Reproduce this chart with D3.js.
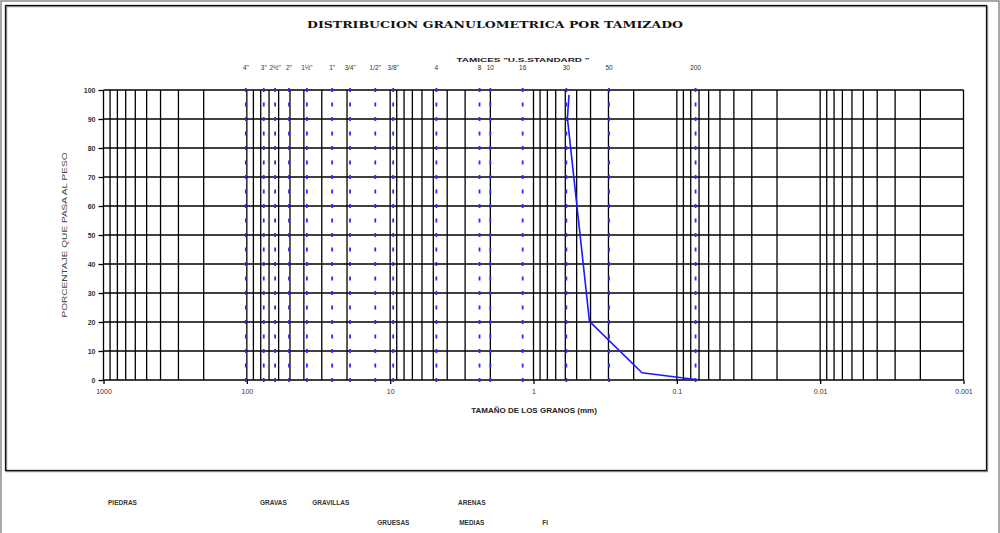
<!DOCTYPE html>
<html>
<head>
<meta charset="utf-8">
<script src="https://cdn.jsdelivr.net/npm/d3@7"></script>
<style>
  html, body { margin: 0; padding: 0; background: #fff; }
  svg { display: block; font-family: "Liberation Sans", Arial, sans-serif; }
</style>
</head>
<body>
<svg id="chart" width="1000" height="533"></svg>
<script>
// Sieve series (U.S. Standard) drawn as dotted reference lines
const sieveLabels = ['4"', '3"', '2½"', '2"', '1½"', '1"', '3/4"', '1/2"', '3/8"', '4', '8', '10', '16', '30', '50', '200'];
const sieveSizes = [101.6, 76.2, 63.5, 50.8, 38.1, 25.4, 19.05, 12.7, 9.525, 4.76, 2.38, 2.0, 1.19, 0.59, 0.297, 0.074];

// Grain size distribution curve
const grainSize = [0.565, 0.58, 0.407, 0.175, 0.074];
const percentPassing = [98.3, 90.3, 20.2, 2.5, 0.2];

// Axis ticks
const xDecades = [1000, 100, 10, 1, 0.1, 0.01, 0.001];
const yTicks = [0, 10, 20, 30, 40, 50, 60, 70, 80, 90, 100];

// Soil class captions under the chart, anchored at a grain size
const classRow1 = ["PIEDRAS", "GRAVAS", "GRAVILLAS", "ARENAS"];
const classRow1Size = [930, 81, 35, 3.36];
const classRow2 = ["GRUESAS", "MEDIAS", "FI"];
const classRow2Size = [12.3, 3.3, 0.87];

const svg = d3.select("#chart");

const x = d3.scaleLog().domain([1000, 0.001]).range([103.5, 963.5]);
const y = d3.scaleLinear().domain([0, 100]).range([380, 90]);

// page frame
svg.append("rect").attr("x", 1).attr("y", 1).attr("width", 998).attr("height", 540)
  .attr("fill", "none").attr("stroke", "#8a8a8a").attr("stroke-width", 1.5);
svg.append("rect").attr("x", 6.5).attr("y", 6.5).attr("width", 981).attr("height", 465)
  .attr("fill", "none").attr("stroke", "#999").attr("stroke-width", 1.5);
svg.append("rect").attr("x", 5.5).attr("y", 5.5).attr("width", 981).attr("height", 465)
  .attr("fill", "none").attr("stroke", "#111").attr("stroke-width", 1.3);

// title
svg.append("text")
  .attr("x", 495).attr("y", 28)
  .attr("text-anchor", "middle")
  .attr("font-family", "'DejaVu Serif', serif")
  .attr("font-weight", "bold")
  .attr("font-size", 8.5)
  .attr("textLength", 376).attr("lengthAdjust", "spacingAndGlyphs")
  .attr("fill", "#111")
  .text("DISTRIBUCION GRANULOMETRICA POR TAMIZADO");

svg.append("text")
  .attr("x", 523).attr("y", 62)
  .attr("text-anchor", "middle")
  .attr("font-weight", "bold")
  .attr("font-size", 5.5)
  .attr("textLength", 133).attr("lengthAdjust", "spacingAndGlyphs")
  .attr("fill", "#222")
  .text('TAMICES "U.S.STANDARD "');

// vertical grid (all log ticks)
const grid = svg.append("g").attr("stroke", "#000").attr("stroke-width", 1.3);
grid.selectAll("line.v").data(x.ticks()).join("line")
  .attr("class", "v")
  .attr("x1", d => x(d)).attr("x2", d => x(d))
  .attr("y1", y(100)).attr("y2", y(0));

// horizontal grid
grid.selectAll("line.h").data(yTicks).join("line")
  .attr("class", "h")
  .attr("x1", x(1000)).attr("x2", x(0.001))
  .attr("y1", d => y(d)).attr("y2", d => y(d));

// x axis (decades)
const xAxis = d3.axisBottom(x).tickValues(xDecades).tickFormat(d3.format("~g")).tickSize(4).tickPadding(5);
const gx = svg.append("g").attr("transform", `translate(0,${y(0)})`).call(xAxis);
gx.select(".domain").remove();
gx.selectAll(".tick line").attr("stroke", "#000").attr("stroke-width", 1.3);
gx.selectAll(".tick text").attr("font-size", 7).attr("fill", "#333");

// y axis
const yAxis = d3.axisLeft(y).tickValues(yTicks).tickSize(5).tickPadding(3);
const gy = svg.append("g").attr("transform", `translate(${x(1000)},0)`).call(yAxis);
gy.select(".domain").remove();
gy.selectAll(".tick line").attr("stroke", "#000").attr("stroke-width", 1.3);
gy.selectAll(".tick text").attr("font-size", 7).attr("font-weight", "bold").attr("fill", "#333");

// sieve dotted lines
svg.append("g").selectAll("line").data(sieveSizes).join("line")
  .attr("x1", d => x(d)).attr("x2", d => x(d))
  .attr("y1", y(100) - 2).attr("y2", y(0) + 2)
  .attr("stroke", "#2a2aff").attr("stroke-width", 1.8)
  .attr("stroke-dasharray", "4,10.5");

// sieve labels
svg.append("g").selectAll("text").data(sieveSizes).join("text")
  .attr("x", d => x(d)).attr("y", 70)
  .attr("text-anchor", "middle")
  .attr("font-size", 6.5)
  .attr("fill", "#333")
  .text((d, i) => sieveLabels[i]);

// distribution curve
const pts = grainSize.map((g, i) => [g, percentPassing[i]]);
svg.append("path")
  .datum(pts)
  .attr("fill", "none")
  .attr("stroke", "#1a1aff")
  .attr("stroke-width", 1.6)
  .attr("d", d3.line().x(d => x(d[0])).y(d => y(d[1])));

// axis titles
svg.append("text")
  .attr("x", 534).attr("y", 413)
  .attr("text-anchor", "middle")
  .attr("font-size", 8)
  .attr("font-weight", "bold")
  .attr("fill", "#222")
  .text("TAMAÑO DE LOS GRANOS (mm)");

svg.append("text")
  .attr("transform", `translate(67,${(y(0) + y(100)) / 2}) rotate(-90)`)
  .attr("text-anchor", "middle")
  .attr("font-size", 7.5)
  .attr("textLength", 165).attr("lengthAdjust", "spacingAndGlyphs")
  .attr("fill", "#444")
  .text("PORCENTAJE QUE PASA AL PESO");

// soil classes
svg.append("g").selectAll("text").data(classRow1).join("text")
  .attr("x", (d, i) => x(classRow1Size[i]))
  .attr("y", 504.5)
  .attr("font-size", 6.5).attr("font-weight", "bold").attr("fill", "#333")
  .text(d => d);
svg.append("g").selectAll("text").data(classRow2).join("text")
  .attr("x", (d, i) => x(classRow2Size[i]))
  .attr("y", 524.5)
  .attr("font-size", 6.5).attr("font-weight", "bold").attr("fill", "#333")
  .text(d => d);
</script>
</body>
</html>
